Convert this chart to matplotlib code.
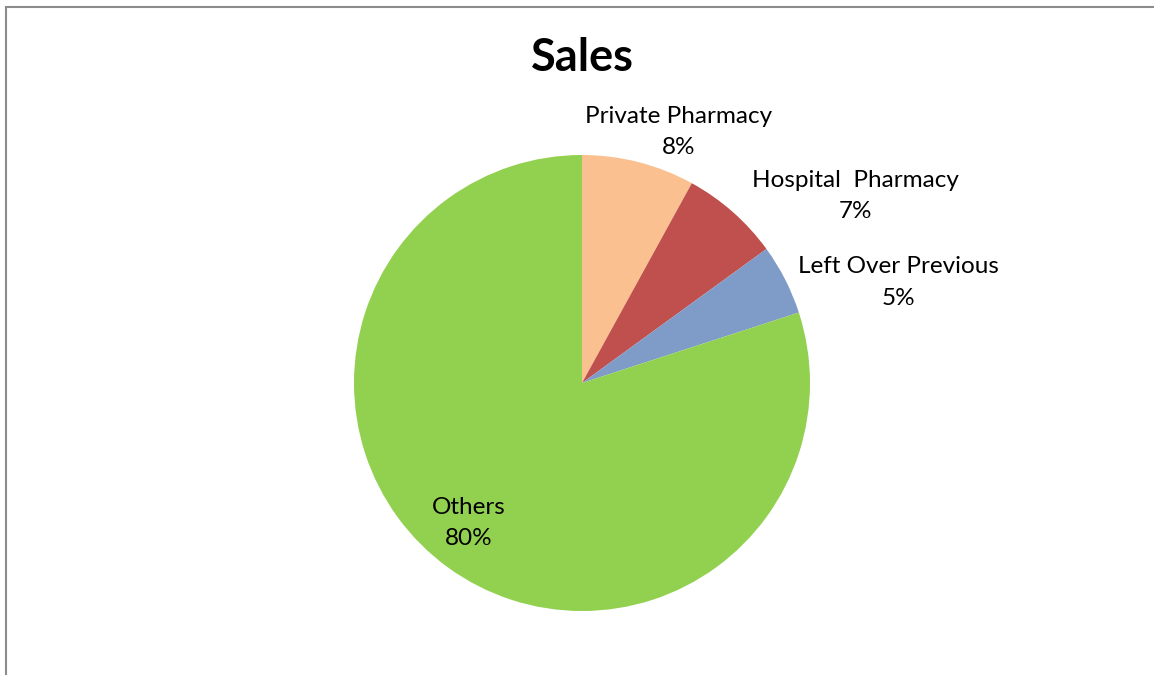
import matplotlib.pyplot as plt
from matplotlib.patches import Rectangle

plt.rcParams['font.family'] = ['Lato', 'DejaVu Sans']

# Sales share by channel
channels = ["Private Pharmacy", "Hospital  Pharmacy", "Left Over Previous", "Others"]
shares = [8, 7, 5, 80]
colors = ["#FAC090", "#C0504D", "#7F9CC8", "#92D050"]

W, H = 1154, 675
fig = plt.figure(figsize=(W / 100, H / 100), dpi=100)

# pie centre (582, 383) px, radius 228 px
cx, cy, r = 582, 383, 228
ax = fig.add_axes([(cx - r) / W, (H - cy - r) / H, 2 * r / W, 2 * r / H])
wedges, _ = ax.pie(shares, colors=colors, startangle=90, counterclock=False,
                   radius=1, wedgeprops=dict(linewidth=0))
ax.set_xlim(-1, 1)
ax.set_ylim(-1, 1)
ax.set_aspect('equal')
ax.axis('off')

# label anchors in pie units (outside end for small slices, inside for Others)
label_pos = [(0.425, 1.10), (1.20, 0.82), (1.386, 0.44), (-0.496, -0.614)]
for name, val, (lx, ly) in zip(channels, shares, label_pos):
    ax.text(lx, ly, f"{name}\n{val}%", ha='center', va='center',
            fontsize=17.5, linespacing=1.62, clip_on=False)

fig.text(582 / W, 1 - 58 / H, "Sales", ha='center', va='center',
         fontsize=32.5, fontweight='bold')

# chart area frame
fig.patches.append(Rectangle((6 / W, -0.1), 1.2, (H - 7) / H + 0.1,
                             transform=fig.transFigure, fill=False,
                             edgecolor='#8c8c8c', linewidth=1.5))

fig.savefig("out.png", dpi=100)
